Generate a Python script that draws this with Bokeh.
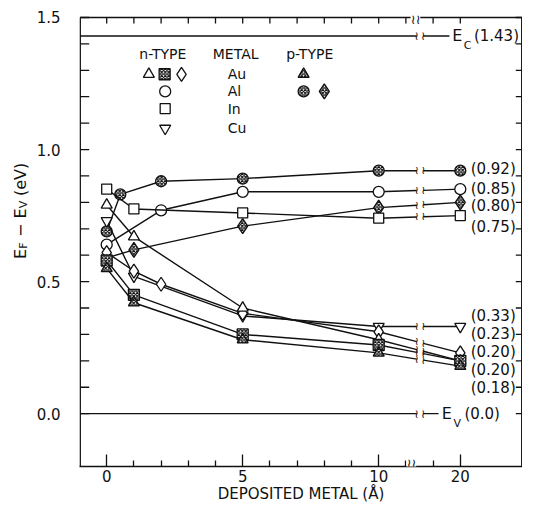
import numpy as np
from bokeh.plotting import figure
from bokeh.layouts import row
from bokeh.models import Range1d, LinearAxis, FixedTicker, Label
from bokeh.core.properties import value
from bokeh.embed import file_html
from bokeh.resources import INLINE

# ---------------- data ----------------
# deposited metal thickness (Angstrom) and E_F - E_V (eV)
x_p_al_circ = [0, 0.5, 2, 5, 10, 20]
y_p_al_circ = [0.69, 0.83, 0.88, 0.89, 0.92, 0.92]
x_n_al = [0, 2, 5, 10, 20]
y_n_al = [0.64, 0.77, 0.84, 0.84, 0.85]
x_p_al_diam = [0, 1, 5, 10, 20]
y_p_al_diam = [0.59, 0.62, 0.71, 0.78, 0.80]
x_n_in = [0, 1, 5, 10, 20]
y_n_in = [0.85, 0.775, 0.76, 0.74, 0.75]
x_n_cu = [0, 1, 5, 10, 20]
y_n_cu = [0.73, 0.52, 0.37, 0.33, 0.33]
x_n_au_tri = [0, 1, 5, 10, 20]
y_n_au_tri = [0.79, 0.67, 0.40, 0.28, 0.20]
x_n_au_diam = [0, 1, 2, 5, 10, 20]
y_n_au_diam = [0.61, 0.54, 0.49, 0.38, 0.31, 0.23]
x_n_au_sq = [0, 1, 5, 10, 20]
y_n_au_sq = [0.58, 0.45, 0.30, 0.26, 0.20]
x_p_au = [0, 1, 5, 10, 20]
y_p_au = [0.55, 0.42, 0.28, 0.23, 0.18]

E_C = 1.43
E_V = 0.0
x_tick_values = [0, 5, 10, 20]
x_minor_values = [1, 2, 3, 4, 6, 7, 8, 9, 11, 19]
y_tick_values = [0.0, 0.5, 1.0, 1.5]
y_tick_labels = ["0.0", "0.5", "1.0", "1.5"]
legend_metals = ["Au", "Al", "In", "Cu"]

# ---------------- styles / layout ----------------
series = [
    # x, y, marker, hatched, size, label y-position
    (x_p_al_circ, y_p_al_circ, "circle", True, 11, 0.926),
    (x_n_al, y_n_al, "circle", False, 11, 0.850),
    (x_p_al_diam, y_p_al_diam, "diamond", True, 15, 0.785),
    (x_n_in, y_n_in, "square", False, 10, 0.707),
    (x_n_cu, y_n_cu, "inverted_triangle", False, 11, 0.370),
    (x_n_au_diam, y_n_au_diam, "diamond", False, 14, 0.300),
    (x_n_au_tri, y_n_au_tri, "triangle", False, 11, 0.233),
    (x_n_au_sq, y_n_au_sq, "square", True, 11, 0.167),
    (x_p_au, y_p_au, "triangle", True, 11, 0.097),
]

FONT = "DejaVu Sans"
INK = "#111111"
BREAK = 11.5          # broken x axis: values above are shifted
SHIFT = 7.0
GAP_L, GAP_R = 11.4, 11.64
H = 505
TW = 79               # width of the left panel (y tick labels + y title)
PW = 522 - TW         # width of the main figure (its frame starts at its left edge)
TOP_B, BOT_B = 4, 38  # frame borders; the top spine (1.5) is drawn 13 px below the frame top
PX_PER_A = 27.2
PX_PER_EV = 264.7
X0 = -1.0
X1 = X0 + PW / PX_PER_A
Y0, YTOP = -0.2, 1.5
Y1 = Y0 + (H - TOP_B - BOT_B) / PX_PER_EV
dx = 1 / PX_PER_A
dy = 1 / PX_PER_EV


def to_axis(x):
    x = np.asarray(x, dtype=float)
    return np.where(x <= BREAK, x, x - SHIFT)


p = figure(width=PW, height=H, x_range=Range1d(X0, X1), y_range=Range1d(Y0, Y1),
           output_backend="svg", toolbar_location=None,
           x_axis_location=None, y_axis_location=None,
           min_border_left=0, min_border_right=0, min_border_top=TOP_B, min_border_bottom=BOT_B)
p.grid.grid_line_color = None
p.outline_line_color = None
p.background_fill_color = "white"


def lab(fig, x, y, text, size=15, align="left", baseline="middle", angle=0, bg=None):
    kw = {}
    if bg:
        kw = dict(background_fill_color=bg)
    fig.add_layout(Label(x=x, y=y, text=text, text_font=FONT, text_font_size=f"{size}px",
                         text_color=INK, text_align=align, text_baseline=baseline,
                         angle=angle, **kw))


# ---------------- bottom axis ----------------
xt = [float(v) for v in to_axis(x_tick_values)]
xm = [float(v) for v in to_axis(x_minor_values)]
bottom = LinearAxis(ticker=FixedTicker(ticks=xt, minor_ticks=xm),
                    major_label_overrides={t: str(v) for t, v in zip(xt, x_tick_values)},
                    axis_label="DEPOSITED METAL (Å)")
bottom.axis_line_color = INK
bottom.axis_line_width = 1.5
bottom.major_tick_line_color = INK
bottom.minor_tick_line_color = INK
bottom.major_tick_line_width = 1.3
bottom.minor_tick_line_width = 1.3
bottom.major_tick_out = 0
bottom.minor_tick_out = 0
bottom.major_tick_in = 12
bottom.minor_tick_in = 6
bottom.major_label_text_font = FONT
bottom.major_label_text_font_size = "15px"
bottom.major_label_text_color = INK
bottom.major_label_standoff = 3
bottom.axis_label_text_font = FONT
bottom.axis_label_text_font_size = "15px"
bottom.axis_label_text_font_style = "normal"
bottom.axis_label_text_color = INK
bottom.axis_label_standoff = 0
p.add_layout(bottom, "below")

# spines (left, top, right) and their inward ticks
xl, xr = X0 + 0.7 * dx, X1 - 0.7 * dx
p.segment(x0=[xl, xl, xr], y0=[Y0, YTOP, Y0], x1=[xl, xr, xr], y1=[YTOP, YTOP, YTOP],
          line_color=INK, line_width=1.5)
yt = [float(v) for v in y_tick_values]
ym = [round(v, 2) for v in np.arange(0.1, 1.45, 0.1) if round(v, 2) not in (0.5, 1.0)]
top_ticks = xt + xm
p.segment(x0=top_ticks, y0=[YTOP] * len(top_ticks), x1=top_ticks,
          y1=[YTOP - 6 * dy] * len(top_ticks), line_color=INK, line_width=1.3)
side_ticks = yt + ym
p.segment(x0=[xl] * len(side_ticks), y0=side_ticks, x1=[xl + 9 * dx] * len(side_ticks),
          y1=side_ticks, line_color=INK, line_width=1.3)
p.segment(x0=[xr] * len(side_ticks), y0=side_ticks, x1=[xr - 6 * dx] * len(side_ticks),
          y1=side_ticks, line_color=INK, line_width=1.3)

# axis break marks on top / bottom spines
lab(p, 11.35, YTOP - 2 * dy, "≀≀", size=13, align="center", bg="white")
lab(p, 11.2, Y0 + 3 * dy, "≀≀", size=13, align="center", bg="white")

# ---------------- band edges ----------------
for ev, xend in ((E_C, 12.6), (E_V, 12.2)):
    p.line([xl, GAP_L], [ev, ev], line_color=INK, line_width=1.4)
    p.line([GAP_R, xend], [ev, ev], line_color=INK, line_width=1.4)
    lab(p, GAP_L, ev, "≀", size=12, align="center")
    lab(p, GAP_R, ev, "≀", size=12, align="center")

lab(p, 12.7, E_C, "E", size=16)
lab(p, 13.13, E_C - 0.012, "C", size=11, baseline="top")
lab(p, 13.5, E_C, f"({E_C:.2f})", size=15)
lab(p, 12.32, E_V, "E", size=16)
lab(p, 12.75, E_V - 0.012, "V", size=11, baseline="top")
lab(p, 13.15, E_V, f"({E_V:.1f})", size=15)

# ---------------- data series ----------------
for xs, ys, marker, hatched, size, ly in series:
    xd = to_axis(xs)
    y = np.asarray(ys, dtype=float)
    lm = xd < GAP_L
    rm = xd > GAP_R
    if rm.any():
        yl = float(np.interp(GAP_L, xd, y))
        yr = float(np.interp(GAP_R, xd, y))
        p.line(np.append(xd[lm], GAP_L), np.append(y[lm], yl), line_color=INK, line_width=1.4)
        p.line(np.insert(xd[rm], 0, GAP_R), np.insert(y[rm], 0, yr), line_color=INK, line_width=1.4)
        lab(p, GAP_L, yl, "≀", size=11, align="center")
        lab(p, GAP_R, yr, "≀", size=11, align="center")
    else:
        p.line(xd, y, line_color=INK, line_width=1.4)
    kw = dict(marker=marker, size=size, fill_color="white", line_color=INK, line_width=1.3)
    if hatched:
        kw.update(hatch_pattern="diagonal_cross", hatch_scale=3.5, hatch_color=INK, hatch_weight=1.2)
    p.scatter(xd, y, **kw)
    lab(p, 13.38, ly, f"({y[-1]:.2f})", size=15)

# ---------------- legend ----------------
hy = 1.363
rows = [1.285, 1.22, 1.155, 1.08]
lab(p, 1.2, hy, "n-TYPE", size=14)
lab(p, 3.9, hy, "METAL", size=14)
lab(p, 6.6, hy, "p-TYPE", size=14)
for name, ry in zip(legend_metals, rows):
    lab(p, 4.45, ry, name, size=14)
open_kw = dict(fill_color="white", line_color=INK, line_width=1.3)
hatch_kw = dict(fill_color="white", line_color=INK, line_width=1.3, hatch_pattern="diagonal_cross",
                hatch_scale=3.5, hatch_color=INK, hatch_weight=1.2)
p.scatter([1.55], [rows[0]], marker="triangle", size=11, **open_kw)
p.scatter([2.13], [rows[0]], marker="square", size=11, **hatch_kw)
p.scatter([2.75], [rows[0]], marker="diamond", size=14, **open_kw)
p.scatter([2.15], [rows[1]], marker="circle", size=11, **open_kw)
p.scatter([2.15], [rows[2]], marker="square", size=10, **open_kw)
p.scatter([2.15], [rows[3]], marker="inverted_triangle", size=11, **open_kw)
p.scatter([7.24], [rows[0]], marker="triangle", size=11, **hatch_kw)
p.scatter([7.24], [rows[1]], marker="circle", size=11, **hatch_kw)
p.scatter([8.0], [rows[1]], marker="diamond", size=15, **hatch_kw)

# ---------------- left panel: y tick labels and title E_F - E_V (eV) ----------------
t = figure(width=TW, height=H, x_range=Range1d(0, TW), y_range=p.y_range,
           output_backend="svg", toolbar_location=None,
           x_axis_location=None, y_axis_location=None,
           min_border_left=0, min_border_right=0, min_border_top=TOP_B, min_border_bottom=BOT_B)
t.grid.grid_line_color = None
t.outline_line_color = None
t.text(x=[TW - 19] * len(yt), y=yt, text=y_tick_labels, text_font=value(FONT),
       text_font_size="15px", text_color=INK, text_align="right", text_baseline="middle")

ang = np.pi / 2
xb, xsub = 20, 23
ys0 = Y1 - (259 - TOP_B) * dy          # start of the rotated title
title_parts = ["E", "F", "− E", "V", "(eV)"]
part_x = [xb, xsub, xb, xsub, xb]
part_y = [ys0, ys0 + 10.3 * dy, ys0 + 22 * dy, ys0 + 50.8 * dy, ys0 + 63 * dy]
part_size = ["16px", "11px", "16px", "11px", "16px"]
t.text(x=part_x, y=part_y, text=title_parts, angle=ang, text_font=value(FONT),
       text_font_size=part_size, text_color=INK, text_align="left", text_baseline="alphabetic")

layout = row(t, p)
open("out.html", "w").write(file_html(layout, INLINE))
